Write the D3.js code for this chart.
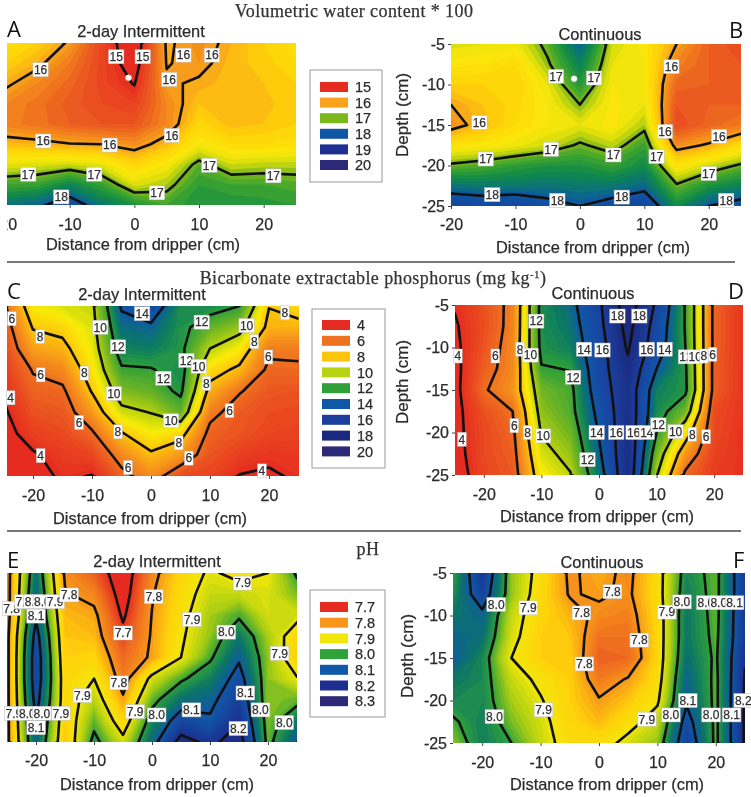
<!DOCTYPE html>
<html>
<head>
<meta charset="utf-8">
<script src="https://cdn.jsdelivr.net/npm/d3@7"></script>
<style>
  html, body { margin: 0; background: #fff; }
  svg { display: block; filter: blur(0.4px); }
  text { font-family: "Liberation Sans", Arial, sans-serif; fill: #2b2b2b; stroke: #2b2b2b; stroke-width: 0.25px; }
  .heading { font-family: "Liberation Serif", serif; font-size: 18px; fill: #333; stroke: #333; letter-spacing: .4px; }
  .letter { font-family: "Open Sans", sans-serif; font-size: 22px; fill: #111; stroke: none; }
  .axis path { display: none; }
  .axis line { stroke: #444; }
  .axis text { font-size: 16px; }
</style>
</head>
<body>
<div id="chart"></div>
<script>
const distancesFrom20 = [-20, -15, -10, -5, 0, 5, 10, 15, 20, 25];
const distancesFrom25 = [-25, -20, -15, -10, -5, 0, 5, 10, 15, 20, 25];
const depths = [-5, -7.5, -10, -12.5, -15, -17.5, -20, -22.5, -25];
const distanceTicks = [-20, -10, 0, 10, 20];
const depthTicks = [-5, -10, -15, -20, -25];

const waterLegend = [15, 16, 17, 18, 19, 20];
const phosphorusLegend = [4, 6, 8, 10, 12, 14, 16, 18, 20];
const phLegend = [7.7, 7.8, 7.9, 8.0, 8.1, 8.2, 8.3];

// one row per depth, one column per distance
const waterIntermittent = [
  [16.5, 16.3, 15.95, 15.25, 14.7, 16.05, 15.85, 16.1, 16.3, 16.45],
  [16.3, 16.08, 15.7, 15.25, 14.8, 16.02, 15.9, 16.15, 16.25, 16.4],
  [16.07, 15.8, 15.55, 15.25, 14.98, 15.95, 16.05, 16.15, 16.2, 16.3],
  [15.8, 15.65, 15.45, 15.3, 15.2, 15.8, 16.2, 16.15, 16.15, 16.3],
  [15.75, 15.65, 15.5, 15.4, 15.4, 15.8, 16.35, 16.15, 16.2, 16.3],
  [16.15, 16.1, 16.02, 16.0, 15.85, 16.15, 16.6, 16.4, 16.4, 16.45],
  [16.7, 16.75, 16.8, 16.7, 16.35, 16.6, 17.1, 16.8, 16.85, 16.85],
  [17.2, 17.25, 17.55, 17.25, 16.75, 16.9, 17.3, 17.2, 17.2, 17.15],
  [17.75, 17.9, 18.3, 17.7, 17.4, 17.2, 17.4, 17.4, 17.35, 17.3]
];
const waterContinuous = [
  [16.75, 16.7, 16.65, 17.1, 17.9, 16.8, 16.55, 16.0, 15.5, 15.3],
  [16.55, 16.5, 16.4, 16.95, 17.6, 16.7, 16.6, 15.75, 15.5, 15.4],
  [16.3, 16.3, 16.3, 16.7, 17.35, 16.6, 16.6, 15.55, 15.5, 15.45],
  [16.0, 16.2, 16.35, 16.6, 17.0, 16.55, 16.7, 15.4, 15.5, 15.5],
  [15.85, 16.15, 16.4, 16.6, 16.7, 16.55, 16.9, 15.3, 15.55, 15.7],
  [16.5, 16.55, 16.65, 16.8, 17.05, 16.85, 17.25, 15.85, 16.05, 16.4],
  [17.05, 17.15, 17.3, 17.4, 17.4, 17.25, 17.5, 16.5, 16.8, 17.05],
  [17.75, 17.7, 17.7, 17.75, 17.7, 17.7, 17.85, 17.05, 17.4, 17.6],
  [18.4, 18.3, 18.4, 18.15, 18.0, 18.2, 18.4, 17.5, 18.0, 18.2]
];
const phosphorusIntermittent = [
  [5.7, 9.0, 9.5, 9.7, 14.2, 15.2, 12.5, 12.6, 12.0, 8.05, 8.6],
  [5.2, 8.1, 8.4, 9.5, 13.4, 13.7, 12.4, 11.2, 10.5, 7.6, 7.6],
  [4.9, 7.2, 7.6, 9.2, 12.8, 13.0, 12.3, 10.0, 9.0, 6.3, 6.3],
  [4.5, 6.1, 6.6, 8.8, 11.8, 11.9, 12.6, 8.6, 7.7, 5.7, 5.8],
  [4.15, 5.6, 5.75, 8.1, 10.8, 11.2, 12.3, 7.5, 6.1, 5.3, 5.2],
  [3.8, 5.1, 5.3, 7.0, 9.6, 10.05, 11.2, 6.4, 5.4, 5.0, 4.9],
  [3.5, 4.6, 4.9, 5.8, 7.9, 9.0, 8.5, 5.6, 5.2, 4.8, 4.7],
  [3.3, 3.85, 4.5, 4.8, 6.6, 7.8, 7.0, 5.2, 4.6, 4.3, 4.4],
  [3.2, 3.5, 4.2, 3.95, 5.6, 6.7, 5.0, 4.8, 3.95, 3.8, 4.2]
];
const phosphorusContinuous = [
  [4.1, 5.1, 6.4, 12.5, 13.5, 15.7, 19.0, 15.7, 11.9, 5.6, 4.3],
  [3.85, 5.05, 6.45, 12.5, 13.2, 15.5, 18.6, 15.2, 11.9, 5.6, 4.3],
  [3.7, 5.2, 6.6, 12.4, 12.9, 15.2, 18.2, 14.9, 12.0, 5.6, 4.3],
  [3.6, 5.5, 6.6, 11.9, 12.05, 15.2, 17.6, 14.0, 12.2, 5.5, 4.3],
  [3.6, 5.85, 6.9, 11.0, 11.6, 15.0, 17.3, 12.9, 12.3, 5.5, 4.3],
  [3.6, 5.1, 6.0, 10.6, 11.5, 14.5, 17.4, 12.6, 11.0, 5.0, 4.3],
  [3.6, 4.9, 5.7, 10.1, 11.0, 14.1, 17.5, 12.0, 8.8, 4.9, 4.2],
  [3.5, 4.9, 5.5, 9.5, 10.5, 13.7, 17.6, 11.0, 7.0, 4.7, 4.2],
  [3.3, 4.8, 5.3, 8.9, 9.9, 13.2, 17.5, 10.1, 5.7, 4.5, 4.2]
];
const phIntermittent = [
  [7.77, 8.06, 7.79, 7.74, 7.66, 7.78, 7.86, 7.91, 7.88, 7.9, 8.01],
  [7.77, 8.08, 7.805, 7.78, 7.67, 7.795, 7.87, 7.93, 7.93, 7.915, 7.97],
  [7.77, 8.09, 7.83, 7.815, 7.69, 7.802, 7.88, 7.95, 7.99, 7.92, 7.92],
  [7.78, 8.13, 7.84, 7.83, 7.72, 7.806, 7.89, 7.96, 8.05, 7.95, 7.86],
  [7.78, 8.15, 7.85, 7.86, 7.75, 7.81, 7.9, 7.99, 8.09, 7.96, 7.85],
  [7.78, 8.15, 7.86, 7.9, 7.77, 7.92, 7.99, 8.04, 8.13, 7.96, 7.905],
  [7.78, 8.13, 7.86, 7.94, 7.81, 7.98, 8.06, 8.08, 8.16, 7.96, 7.98],
  [7.78, 8.1, 7.85, 7.98, 7.86, 8.03, 8.14, 8.11, 8.195, 7.97, 8.05],
  [7.78, 8.08, 7.84, 8.02, 7.92, 8.07, 8.23, 8.18, 8.24, 7.98, 8.1]
];
const phContinuous = [
  [8.0, 8.18, 7.96, 7.875, 7.79, 7.82, 7.785, 7.87, 8.03, 7.98, 8.17],
  [8.02, 8.15, 7.96, 7.865, 7.795, 7.808, 7.79, 7.87, 8.04, 7.98, 8.17],
  [8.05, 8.08, 7.93, 7.86, 7.825, 7.785, 7.775, 7.86, 8.05, 7.98, 8.18],
  [8.08, 8.06, 7.92, 7.85, 7.84, 7.76, 7.76, 7.86, 8.05, 7.985, 8.18],
  [8.09, 8.03, 7.9, 7.85, 7.85, 7.74, 7.75, 7.86, 8.06, 7.99, 8.195],
  [8.05, 8.03, 7.93, 7.885, 7.85, 7.77, 7.805, 7.87, 8.08, 7.985, 8.205],
  [8.03, 8.03, 7.95, 7.905, 7.85, 7.805, 7.84, 7.89, 8.09, 7.985, 8.21],
  [7.99, 8.04, 7.97, 7.92, 7.86, 7.83, 7.875, 7.93, 8.13, 7.985, 8.21],
  [7.96, 8.04, 8.0, 7.93, 7.87, 7.87, 7.92, 7.96, 8.16, 7.985, 8.21]
];

const waterLevels = [15, 16, 17, 18];
const phosphorusLevels = [4, 6, 8, 10, 12, 14, 16, 18];
const phLevels = [7.7, 7.8, 7.9, 8.0, 8.1, 8.2];

// contour labels: distance, depth, text
const waterIntermittentLabels = [
  [-14.5, -8.3, '16'], [-2.8, -6.7, '15'], [1.3, -6.7, '15'], [5.4, -9.5, '16'], [7.6, -6.5, '16'],
  [12, -6.5, '16'], [-14.1, -17.1, '16'], [-3.8, -17.6, '16'], [5.8, -16.4, '16'], [-16.4, -21.2, '17'],
  [-6.2, -21.2, '17'], [3.5, -23.5, '17'], [11.6, -20.1, '17'], [21.5, -21.4, '17'], [-11.3, -24, '18']
];
const waterContinuousLabels = [
  [-3.7, -9, '17'], [2.2, -9.2, '17'], [-15.6, -14.7, '16'], [14.2, -7.8, '16'], [13.2, -15.8, '16'],
  [21.6, -16.4, '16'], [-14.6, -19.2, '17'], [-4.5, -18, '17'], [5.2, -18.7, '17'], [11.9, -18.9, '17'],
  [20, -21, '17'], [-13.6, -23.6, '18'], [-3.5, -24.3, '18'], [6.5, -23.9, '18'], [22.7, -24.3, '18']
];
const phosphorusIntermittentLabels = [
  [-23.6, -6.5, '6'], [-18.8, -8.6, '8'], [-18.7, -13.1, '6'], [-23.8, -15.8, '4'], [-12.2, -18.7, '6'],
  [-11.3, -12.9, '8'], [-8.6, -7.5, '10'], [-5.6, -9.8, '12'], [-6.3, -15.3, '10'], [-5.6, -19.8, '8'],
  [-18.7, -22.6, '4'], [-3.9, -24, '6'], [-1.5, -5.9, '14'], [8.6, -6.9, '12'], [6, -11.4, '12'],
  [8.1, -12.1, '10'], [2.1, -13.5, '12'], [16.2, -7.3, '10'], [17.5, -9.2, '8'], [9.4, -14.1, '8'],
  [19.9, -11, '6'], [22.7, -5.8, '8'], [3.4, -18.5, '10'], [4.7, -21.1, '8'], [6.4, -22.9, '6'],
  [13.3, -17.3, '6'], [18.8, -24.4, '4']
];
const phosphorusContinuousLabels = [
  [-10.9, -6.9, '12'], [-24.5, -11, '4'], [-18, -11, '6'], [-13.7, -10.2, '8'], [-11.9, -10.9, '10'],
  [-2.6, -10.2, '14'], [0.6, -10.3, '16'], [3.2, -6.3, '18'], [7, -6.3, '18'], [8.3, -10.2, '16'],
  [11.4, -10.2, '14'], [15.1, -11.1, '12'], [16.7, -11.1, '10'], [18.2, -11, '8'], [19.7, -10.8, '6'],
  [-4.5, -13.5, '12'], [-14.7, -19.2, '6'], [-12.4, -20, '8'], [-9.7, -20.4, '10'], [-23.8, -20.8, '4'],
  [-0.4, -20, '14'], [3, -20, '16'], [6, -20, '16'], [8.3, -20, '14'], [10.3, -19.1, '12'],
  [13.3, -19.9, '10'], [16.2, -20.2, '8'], [18.6, -20.5, '6'], [-2, -23.2, '12']
];
const phIntermittentLabels = [
  [-24.2, -9.2, '7.8'], [-22.1, -8.4, '7.9'], [-20.5, -8.4, '8.0'], [-18.9, -8.4, '8.0'], [-16.7, -8.4, '7.9'],
  [-14.3, -7.6, '7.8'], [-20, -10.1, '8.1'], [-5, -12.1, '7.7'], [0.3, -7.8, '7.8'], [6.9, -10.5, '7.9'],
  [-5.7, -18, '7.8'], [-12, -19.5, '7.9'], [-2.9, -21.4, '7.9'], [0.8, -21.8, '8.0'], [6.8, -21.2, '8.1'],
  [16.1, -19.2, '8.1'], [14.9, -23.4, '8.2'], [18.7, -21.2, '8.0'], [22.8, -22.7, '8.0'], [22, -14.5, '7.9'],
  [12.8, -12, '8.0'], [15.6, -6.2, '7.9'], [-23.8, -21.6, '7.9'], [-21.5, -21.6, '8.0'], [-19, -21.6, '8.0'],
  [-15.7, -21.6, '7.9'], [-20, -23.3, '8.1']
];
const phContinuousLabels = [
  [-17.6, -8.7, '8.0'], [-12.1, -9.1, '7.9'], [-3, -9.7, '7.8'], [2.3, -7.2, '7.8'], [6.9, -12.9, '7.8'],
  [-2.5, -15.7, '7.8'], [11.6, -9.6, '7.9'], [14.2, -8.4, '8.0'], [18.3, -8.5, '8.0'], [20.5, -8.5, '8.0'],
  [23.2, -8.5, '8.1'], [15.2, -20, '8.1'], [24.7, -20, '8.2'], [8.2, -22.2, '7.9'], [12.3, -21.7, '8.0'],
  [19.2, -21.7, '8.0'], [22.7, -21.7, '8.1'], [-17.9, -21.9, '8.0'], [-9.5, -21.1, '7.9']
];

const width = 751;
const height = 797;

const waterColour = d3.scaleLinear()
  .domain([15, 15.5, 16, 16.3, 16.6, 16.8, 17, 17.2, 17.5, 17.8, 18, 19, 20])
  .range(['#e62b20', '#ec5f20', '#f8a31b', '#ffd408', '#fbe80a', '#d6dc0c', '#7ab81c', '#3ea42e', '#108a48', '#0b6f80', '#0f55a5', '#1c2f92', '#2c2a78'])
  .clamp(true);
const phosphorusColour = d3.scaleLinear()
  .domain([4, 5, 6, 7, 8, 9, 10, 11, 12, 13, 14, 16, 18, 20])
  .range(['#e62b20', '#ea4c20', '#ee7120', '#f7981a', '#fdc40c', '#fbec08', '#b8d30f', '#72b522', '#2fa03a', '#0b7a62', '#0f58a8', '#1c3f9e', '#1b2a7e', '#2e2a7a'])
  .clamp(true);
const phColour = d3.scaleLinear()
  .domain([7.7, 7.75, 7.8, 7.85, 7.9, 7.95, 8.0, 8.05, 8.1, 8.2, 8.3])
  .range(['#e62b20', '#ee6a20', '#f7961b', '#ffd20a', '#f2e70b', '#a8cd14', '#30a23a', '#0b7565', '#1058a8', '#1c2f90', '#2d2a78'])
  .clamp(true);

const panels = [
  { letter: 'A', letterAt: [7, 37], grid: waterIntermittent, distances: distancesFrom20, labels: waterIntermittentLabels,
    levels: waterLevels, colour: waterColour, step: 0.1, xRange: [5, 296], yRange: [43, 205], clipLeft: 7,
    title: '2-day Intermittent', titleAt: [141, 37], xLabelAt: [143, 250], tickGap: 11 },
  { letter: 'B', letterAt: [729, 38], grid: waterContinuous, distances: distancesFrom20, labels: waterContinuousLabels,
    levels: waterLevels, colour: waterColour, step: 0.1, xRange: [451, 741], yRange: [44, 206], clipLeft: 451,
    title: 'Continuous', titleAt: [600, 40], xLabelAt: [593, 253], tickGap: 10, yLabelAt: [402, 115] },
  { letter: 'C', letterAt: [7, 299], grid: phosphorusIntermittent, distances: distancesFrom25, labels: phosphorusIntermittentLabels,
    levels: phosphorusLevels, colour: phosphorusColour, step: 0.2, xRange: [3.5, 298.5], yRange: [306, 476], clipLeft: 7,
    title: '2-day Intermittent', titleAt: [142, 300], xLabelAt: [150, 524], tickGap: 11 },
  { letter: 'D', letterAt: [728, 299], grid: phosphorusContinuous, distances: distancesFrom25, labels: phosphorusContinuousLabels,
    levels: phosphorusLevels, colour: phosphorusColour, step: 0.2, xRange: [455, 743], yRange: [305, 475], clipLeft: 455,
    title: 'Continuous', titleAt: [593, 299], xLabelAt: [597, 522], tickGap: 11, yLabelAt: [402, 382] },
  { letter: 'E', letterAt: [7, 568], grid: phIntermittent, distances: distancesFrom25, labels: phIntermittentLabels,
    levels: phLevels, colour: phColour, step: 0.01, xRange: [7, 297], yRange: [573, 742], clipLeft: 7,
    title: '2-day Intermittent', titleAt: [157, 567], xLabelAt: [157, 790], tickGap: 10 },
  { letter: 'F', letterAt: [733, 568], grid: phContinuous, distances: distancesFrom25, labels: phContinuousLabels,
    levels: phLevels, colour: phColour, step: 0.01, xRange: [453, 745], yRange: [573, 743], clipLeft: 453,
    title: 'Continuous', titleAt: [602, 568], xLabelAt: [607, 790], tickGap: 11, yLabelAt: [407, 656] }
];

const svg = d3.select('#chart').append('svg')
  .attr('width', width)
  .attr('height', height);

function drawPanel(panel, i) {
  const [x0, x1] = panel.xRange;
  const [y0, y1] = panel.yRange;
  const nx = panel.distances.length;
  const ny = depths.length;
  const values = panel.grid.flat();

  const x = d3.scaleLinear().domain([panel.distances[0], panel.distances[nx - 1]]).range([x0, x1]);
  const y = d3.scaleLinear().domain([-5, -25]).range([y0, y1]);

  // d3.contours puts sample i at i + 0.5
  const colToDistance = d3.scaleLinear().domain([0.5, nx - 0.5]).range([panel.distances[0], panel.distances[nx - 1]]);
  const rowToDepth = d3.scaleLinear().domain([0.5, ny - 0.5]).range([depths[0], depths[ny - 1]]);
  const path = d3.geoPath(d3.geoTransform({
    point(cx, cy) { this.stream.point(x(colToDistance(cx)), y(rowToDepth(cy))); }
  }));
  const contours = d3.contours().size([nx, ny]);

  const clipId = `plot-${i}`;
  svg.append('clipPath').attr('id', clipId)
    .append('rect')
    .attr('x', panel.clipLeft).attr('y', y0)
    .attr('width', x1 - panel.clipLeft).attr('height', y1 - y0);

  const plot = svg.append('g').attr('clip-path', `url(#${clipId})`);

  // start under the smallest value so the first band fills the whole plot
  const low = d3.min(values) - panel.step;
  const thresholds = d3.range(low, d3.max(values), panel.step);
  plot.selectAll('path.band')
    .data(thresholds)
    .enter()
    .append('path')
    .attr('class', 'band')
    .attr('d', t => path(contours.contour(values, t)))
    .attr('fill', t => panel.colour(t + panel.step / 2));

  plot.selectAll('path.level')
    .data(panel.levels)
    .enter()
    .append('path')
    .attr('class', 'level')
    .attr('d', t => path(contours.contour(values, t)))
    .attr('fill', 'none')
    .attr('stroke', '#111')
    .attr('stroke-width', 2.6)
    .attr('stroke-linejoin', 'round');

  const outer = svg.append('g');
  const labels = outer.selectAll('g.tag')
    .data(panel.labels)
    .enter()
    .append('g')
    .attr('class', 'tag')
    .attr('transform', d => `translate(${x(d[0])},${y(d[1])})`);
  labels.append('rect').attr('fill', '#fff').attr('stroke', '#bbb').attr('stroke-width', 0.5);
  labels.append('text')
    .attr('text-anchor', 'middle')
    .attr('dy', '0.36em')
    .style('font-size', '12px')
    .style('fill', '#333')
    .text(d => d[2]);
  labels.each(function () {
    const w = d3.select(this).select('text').node().getComputedTextLength() + 2;
    d3.select(this).select('rect').attr('x', -w / 2).attr('y', -7).attr('width', w).attr('height', 14);
  });

  // left panels are cut by the page edge, the "-20" of panel A loses its sign
  const axisClipId = `axis-${i}`;
  svg.append('clipPath').attr('id', axisClipId)
    .append('rect').attr('x', 7).attr('y', 0).attr('width', width).attr('height', height);

  svg.append('g')
    .attr('class', 'axis')
    .attr('clip-path', `url(#${axisClipId})`)
    .append('g')
    .attr('transform', `translate(0,${y1})`)
    .call(d3.axisBottom(x).tickValues(distanceTicks).tickFormat(d => String(d)).tickSize(3).tickPadding(panel.tickGap));

  if (panel.yLabelAt) {
    svg.append('g')
      .attr('class', 'axis')
      .attr('transform', `translate(${panel.clipLeft},0)`)
      .call(d3.axisLeft(y).tickValues(depthTicks).tickFormat(d => String(d)).tickSize(3).tickPadding(3));
    svg.append('text')
      .attr('transform', `translate(${panel.yLabelAt[0]},${panel.yLabelAt[1]}) rotate(-90)`)
      .attr('text-anchor', 'middle')
      .attr('dy', '0.36em')
      .style('font-size', '17px')
      .text('Depth (cm)');
  }

  svg.append('text')
    .attr('x', panel.xLabelAt[0]).attr('y', panel.xLabelAt[1])
    .attr('text-anchor', 'middle')
    .style('font-size', '16.4px')
    .text('Distance from dripper (cm)');
  svg.append('text')
    .attr('x', panel.titleAt[0]).attr('y', panel.titleAt[1])
    .attr('text-anchor', 'middle')
    .style('font-size', '16.4px')
    .text(panel.title);
  svg.append('text')
    .attr('class', 'letter')
    .attr('x', panel.letterAt[0]).attr('y', panel.letterAt[1])
    .text(panel.letter);

  return { x, y };
}

function drawLegend(values, colour, box, format) {
  const g = svg.append('g');
  g.append('rect')
    .attr('x', box.x).attr('y', box.y)
    .attr('width', box.w).attr('height', box.h)
    .attr('fill', '#fff').attr('stroke', '#999');
  const row = d3.scaleBand().domain(values).range([box.first, box.first + box.gap * values.length]);
  const items = g.selectAll('g').data(values).enter().append('g')
    .attr('transform', d => `translate(${box.x + 10},${row(d)})`);
  items.append('rect')
    .attr('width', 28).attr('height', 10)
    .attr('fill', d => colour(d));
  items.append('text')
    .attr('x', 35).attr('y', 5).attr('dy', '0.36em')
    .style('font-size', '14.5px')
    .text(format);
}

const scales = panels.map(drawPanel);

// white dots at the dripper
[[scales[0], -0.9], [scales[1], -0.9]].forEach(([s, d]) => {
  svg.append('circle')
    .attr('cx', s.x(d)).attr('cy', s.y(-9.3)).attr('r', 3)
    .attr('fill', '#fff').attr('stroke', '#ccc').attr('stroke-width', 0.5);
});

drawLegend(waterLegend, waterColour, { x: 310, y: 70, w: 72, h: 112, first: 82, gap: 15.6 }, d => d);
drawLegend(phosphorusLegend, phosphorusColour, { x: 312, y: 309, w: 73, h: 159, first: 320, gap: 15.8 }, d => d);
drawLegend(phLegend, phColour, { x: 310, y: 590, w: 75, h: 127, first: 602, gap: 15.7 }, d => d.toFixed(1));

// section rules
[[7, 735, 262], [7, 741, 531]].forEach(([a, b, yy]) => {
  svg.append('line')
    .attr('x1', a).attr('x2', b).attr('y1', yy).attr('y2', yy)
    .attr('stroke', '#777').attr('stroke-width', 2);
});

svg.append('text').attr('class', 'heading').attr('x', 354).attr('y', 17).attr('text-anchor', 'middle')
  .text('Volumetric water content * 100');
const phosphorusHeading = svg.append('text').attr('class', 'heading').attr('x', 373).attr('y', 284).attr('text-anchor', 'middle')
  .text('Bicarbonate extractable phosphorus (mg kg');
phosphorusHeading.append('tspan').attr('dy', -6).style('font-size', '11px').text('-1');
phosphorusHeading.append('tspan').attr('dy', 6).text(')');
svg.append('text').attr('class', 'heading').attr('x', 368).attr('y', 555).attr('text-anchor', 'middle').text('pH');
</script>
</body>
</html>
